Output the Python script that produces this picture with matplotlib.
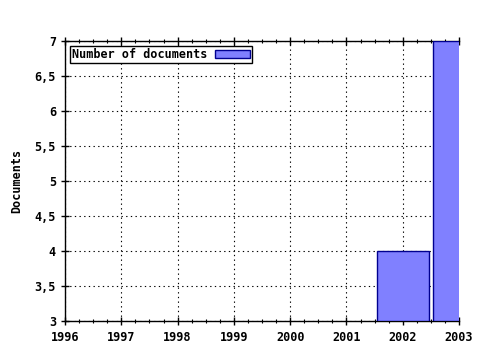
import matplotlib.pyplot as plt
from matplotlib.ticker import MultipleLocator, FuncFormatter

years = [2002, 2003]
documents = [4, 7]
label = 'Number of documents'

plt.rcParams['font.family'] = 'DejaVu Sans Mono'
plt.rcParams['font.weight'] = 'bold'

fig = plt.figure(figsize=(4.8, 3.5), dpi=100)
ax = fig.add_axes([65 / 480, 1 - 321 / 350, 394 / 480, 280 / 350])

ax.bar(years, [d - 3 for d in documents], bottom=3, width=0.92,
       color='#8080ff', edgecolor='#000090', linewidth=1, label=label, zorder=3)

ax.set_xlim(1996, 2003)
ax.set_ylim(3, 7)
ax.xaxis.set_major_locator(MultipleLocator(1))
ax.xaxis.set_minor_locator(MultipleLocator(0.25))
ax.yaxis.set_major_locator(MultipleLocator(0.5))
ax.yaxis.set_major_formatter(FuncFormatter(
    lambda v, p: ('%g' % v).replace('.', ',')))

ax.grid(True, which='major', color='black', linestyle=(0, (1.2, 3)), linewidth=0.8)
ax.tick_params(which='major', direction='inout', length=6, width=1,
               labelsize=8.5, top=True)
ax.tick_params(which='minor', direction='inout', length=3, width=0.8, top=True)
ax.tick_params(axis='x', pad=4)
ax.spines['right'].set_visible(False)
for s in ['left', 'bottom', 'top']:
    ax.spines[s].set_linewidth(1)

ax.set_ylabel('Documents', fontsize=8.5, fontweight='bold', labelpad=8)

leg = ax.legend(loc='upper left', markerfirst=False, fancybox=False,
                framealpha=1, edgecolor='black', fontsize=8.5,
                borderpad=0.15, handlelength=3, handleheight=0.6,
                borderaxespad=0.45, handletextpad=0.6)
leg.get_frame().set_linewidth(1)

fig.savefig('out.png', dpi=100)
